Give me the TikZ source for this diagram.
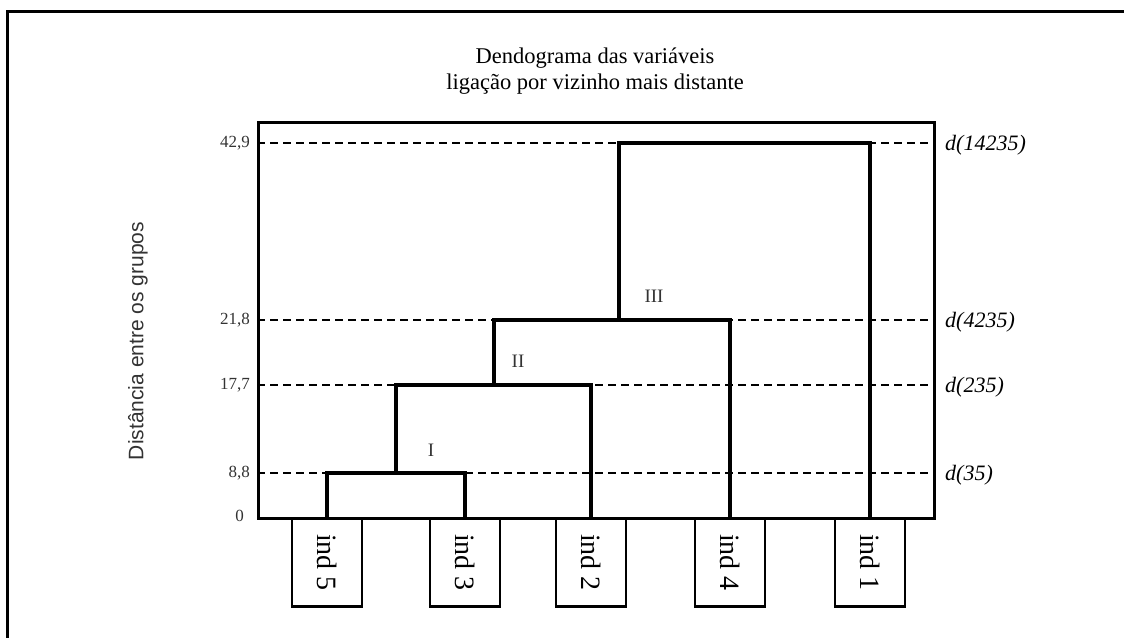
\documentclass[tikz,border=0pt]{standalone}
\usepackage{fontspec}
\setmainfont{Liberation Serif}
\setsansfont{Liberation Sans}
\definecolor{txtgray}{HTML}{333333}
\begin{document}
\begin{tikzpicture}[x=1pt,y=-1pt,
  tree/.style={line width=3.4pt},
  dashline/.style={line width=2.2pt, dash pattern=on 8pt off 5pt},
  leafbox/.style={draw, line width=2.8pt, minimum width=70pt, minimum height=88pt,
    inner sep=0pt, anchor=north, font=\fontsize{28}{30}\selectfont},
  ticklab/.style={anchor=east, inner sep=0pt, text=txtgray, font=\fontsize{17}{19}\selectfont},
  dlab/.style={anchor=west, inner sep=0pt, font=\itshape\fontsize{22}{24}\selectfont},
  roman/.style={inner sep=0pt, text=txtgray, font=\fontsize{19}{21}\selectfont},
  titletext/.style={inner sep=0pt, font=\fontsize{22.5}{26}\selectfont}]
\useasboundingbox (0,0) rectangle (1124,637);
% outer frame
\draw[line width=3pt] (7,660) -- (7,11) -- (1150,11);
% title
\node[titletext, anchor=base] (title1) at (595,63) {Dendograma das variáveis};
\node[titletext, anchor=base] (title2) at (595,89) {ligação por vizinho mais distante};
% axis label
\node[rotate=90, text=txtgray, font=\sffamily\fontsize{21}{24}\selectfont] (ylab) at (138,341)
  {Distância entre os grupos};
% plot frame
\node[draw, line width=2.8pt, minimum width=676pt, minimum height=396pt, inner sep=0pt,
  anchor=north west] (plot) at (257,121) {};
% levels
\coordinate (lev4) at (257,143);
\coordinate (lev3) at (257,320);
\coordinate (lev2) at (257,385);
\coordinate (lev1) at (257,473);
\coordinate (lev4e) at (933,143);
\coordinate (lev3e) at (933,320);
\coordinate (lev2e) at (933,385);
\coordinate (lev1e) at (933,473);
\foreach \l in {1,2,3,4}{\draw[dashline] (lev\l) -- (lev\l e);}
% tick labels
\node[ticklab] (t4) at (250,143) {42,9};
\node[ticklab] (t3) at (250,320) {21,8};
\node[ticklab] (t2) at (250,385) {17,7};
\node[ticklab] (t1) at (250,473) {8,8};
\node[ticklab] (t0) at (244,516) {0};
% right labels
\node[dlab] (d4) at (945,145) {d(14235)};
\node[dlab] (d3) at (945,322) {d(4235)};
\node[dlab] (d2) at (945,387) {d(235)};
\node[dlab] (d1) at (945,475) {d(35)};
% leaves
\node[leafbox] (ind5) at (327,517) {\rotatebox{-90}{ind 5}};
\node[leafbox] (ind3) at (465,517) {\rotatebox{-90}{ind 3}};
\node[leafbox] (ind2) at (591,517) {\rotatebox{-90}{ind 2}};
\node[leafbox] (ind4) at (730,517) {\rotatebox{-90}{ind 4}};
\node[leafbox] (ind1) at (870,517) {\rotatebox{-90}{ind 1}};
% junctions
\coordinate (c1) at (396,473);
\coordinate (c2) at (494,385);
\coordinate (c3) at (619,320);
% tree
\draw[tree] (ind5.north) |- (ind3.north |- lev1) -- (ind3.north);
\draw[tree] (c1) |- (ind2.north |- lev2) -- (ind2.north);
\draw[tree] (c2) |- (ind4.north |- lev3) -- (ind4.north);
\draw[tree] (c3) |- (ind1.north |- lev4) -- (ind1.north);
% cluster labels
\node[roman] (rI) at (431,450) {I};
\node[roman] (rII) at (518,361) {II};
\node[roman] (rIII) at (654,296) {III};
\end{tikzpicture}
\end{document}
